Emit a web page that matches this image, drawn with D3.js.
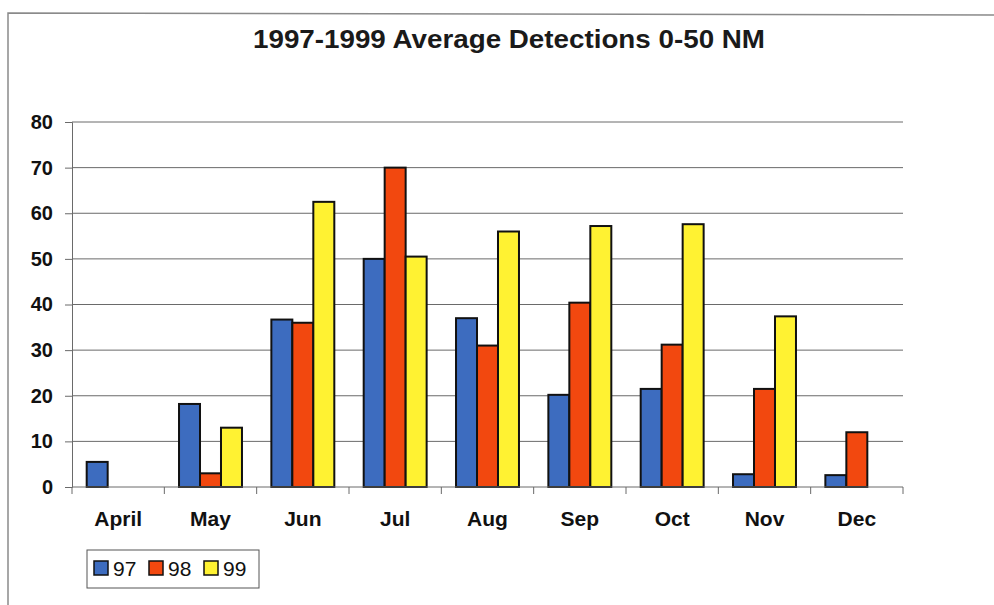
<!DOCTYPE html>
<html>
<head>
<meta charset="utf-8">
<script src="https://cdn.jsdelivr.net/npm/d3@7"></script>
<style>
  body { margin: 0; background: #fff; }
  svg { display: block; font-family: "Liberation Sans", Arial, sans-serif; }
</style>
</head>
<body>
<div id="chart"></div>
<script>
const width = 994;
const height = 605;

const months = ["April", "May", "Jun", "Jul", "Aug", "Sep", "Oct", "Nov", "Dec"];
const seriesNames = ["97", "98", "99"];
const s97 = [5.5, 18.2, 36.7, 50, 37, 20.2, 21.5, 2.8, 2.6];
const s98 = [null, 3, 36, 70, 31, 40.4, 31.2, 21.5, 12];
const s99 = [null, 13, 62.5, 50.5, 56, 57.2, 57.6, 37.4, null];
const yTicks = [0, 10, 20, 30, 40, 50, 60, 70, 80];
const colors = ["#3d6cbf", "#f2480f", "#fff232"];

const series = [s97, s98, s99];

const svg = d3.select("#chart").append("svg")
  .attr("width", width)
  .attr("height", height);

// outer frame (only top and left edges are visible in the scan)
svg.append("path")
  .attr("d", "M8,605 L8,13 L994,15")
  .attr("fill", "none")
  .attr("stroke", "#8a8a8a")
  .attr("stroke-width", 1.5);

const title = svg.append("text")
  .attr("x", 509)
  .attr("y", 48)
  .attr("text-anchor", "middle")
  .attr("font-size", 25)
  .attr("font-weight", "bold")
  .attr("fill", "#1a1a1a")
  .attr("textLength", 512)
  .attr("lengthAdjust", "spacingAndGlyphs")
  .text("1997-1999 Average Detections 0-50 NM");

const x = d3.scaleBand()
  .domain(months)
  .range([72, 903])
  .paddingInner(0)
  .paddingOuter(0);

const x1 = d3.scaleBand()
  .domain(seriesNames)
  .range([0, x.bandwidth()])
  .paddingInner(0)
  .paddingOuter(0.7);

const y = d3.scaleLinear()
  .domain([0, 80])
  .range([487, 122]);

// gridlines
svg.append("g")
  .selectAll("line")
  .data(yTicks.filter(d => d > 0))
  .enter()
  .append("line")
  .attr("x1", 72)
  .attr("x2", 903)
  .attr("y1", d => y(d))
  .attr("y2", d => y(d))
  .attr("stroke", "#6a6a6a")
  .attr("stroke-width", 1);

// bars
const groups = svg.append("g")
  .selectAll("g")
  .data(series)
  .enter()
  .append("g")
  .attr("fill", (d, i) => colors[i]);

groups.selectAll("rect")
  .data((d, i) => d.map((v, j) => ({ month: months[j], name: seriesNames[i], value: v })).filter(e => e.value != null))
  .enter()
  .append("rect")
  .attr("x", d => x(d.month) + x1(d.name))
  .attr("y", d => y(d.value))
  .attr("width", x1.bandwidth())
  .attr("height", d => y(0) - y(d.value))
  .attr("stroke", "#111")
  .attr("stroke-width", 2);

// y axis
const yAxis = d3.axisLeft(y).tickValues(yTicks).tickSize(7).tickPadding(12);
const yg = svg.append("g")
  .attr("transform", "translate(72,0)")
  .call(yAxis);
yg.select(".domain").attr("stroke", "#6a6a6a");
yg.selectAll(".tick line").attr("stroke", "#6a6a6a");
yg.selectAll(".tick text")
  .attr("font-size", 20)
  .attr("font-weight", "bold")
  .attr("fill", "#111")
  .attr("font-family", "Liberation Sans, Arial, sans-serif");

// x axis
const xAxis = d3.axisBottom(x).tickSize(0).tickPadding(24);
const xg = svg.append("g")
  .attr("transform", "translate(0,487)")
  .call(xAxis);
xg.select(".domain").attr("stroke", "#6a6a6a").attr("d", "M72,0H903");
xg.selectAll(".tick text")
  .attr("font-size", 21)
  .attr("font-weight", "bold")
  .attr("fill", "#111")
  .attr("font-family", "Liberation Sans, Arial, sans-serif");

// category boundary ticks
svg.append("g")
  .selectAll("line")
  .data(months.map(m => x(m)).concat([x.range()[1]]))
  .enter()
  .append("line")
  .attr("x1", d => d)
  .attr("x2", d => d)
  .attr("y1", 487)
  .attr("y2", 494)
  .attr("stroke", "#6a6a6a");

// legend
const legend = svg.append("g");
legend.append("rect")
  .attr("x", 87)
  .attr("y", 550)
  .attr("width", 172)
  .attr("height", 38)
  .attr("fill", "#fff")
  .attr("stroke", "#555")
  .attr("stroke-width", 1);

const legendX = [94, 149, 204];
seriesNames.forEach((name, i) => {
  legend.append("rect")
    .attr("x", legendX[i])
    .attr("y", 561)
    .attr("width", 14)
    .attr("height", 14)
    .attr("fill", colors[i])
    .attr("stroke", "#111")
    .attr("stroke-width", 1.5);
  legend.append("text")
    .attr("x", legendX[i] + 19)
    .attr("y", 576)
    .attr("font-size", 21)
    .attr("fill", "#111")
    .text(name);
});
</script>
</body>
</html>
